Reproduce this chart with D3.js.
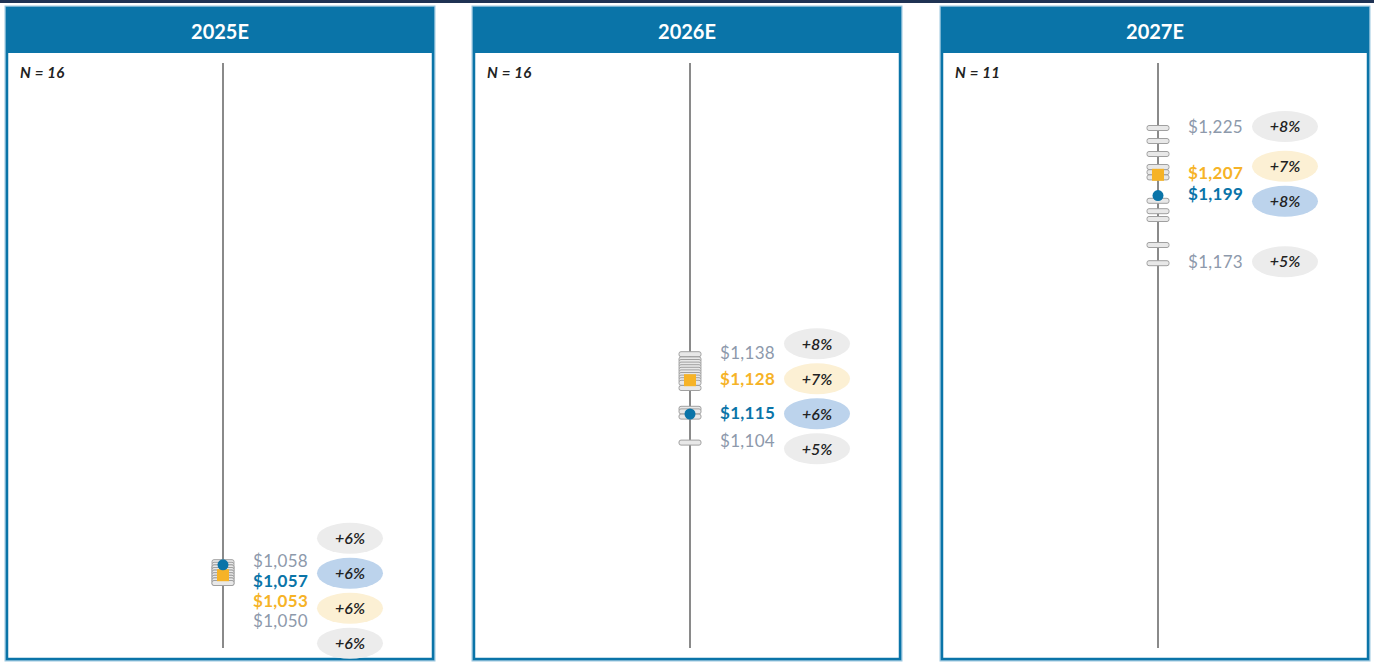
<!DOCTYPE html>
<html>
<head>
<meta charset="utf-8">
<script src="https://cdn.jsdelivr.net/npm/d3@7"></script>
<style>
  html, body { margin: 0; padding: 0; background: #fff; }
  svg { display: block; }
</style>
</head>
<body>
<svg id="chart" width="1374" height="662"></svg>
<script>
// ---- data ----
const years = ["2025E", "2026E", "2027E"];
const counts = [16, 16, 11];
const estimates2025 = [1058, 1057, 1056, 1056, 1055, 1055, 1054, 1054, 1053, 1053, 1052, 1052, 1051, 1051, 1050, 1050];
const estimates2026 = [1138, 1136, 1135, 1134, 1133, 1132, 1131, 1130, 1129, 1128, 1127, 1125, 1117, 1116, 1114, 1104];
const estimates2027 = [1225, 1220, 1215, 1210, 1208, 1206, 1197, 1193, 1190, 1180, 1173];
const highs = [1058, 1138, 1225];
const means = [1057, 1115, 1199];
const medians = [1053, 1128, 1207];
const lows = [1050, 1104, 1173];
const highGrowth = ["+6%", "+8%", "+8%"];
const meanGrowth = ["+6%", "+6%", "+8%"];
const medianGrowth = ["+6%", "+7%", "+7%"];
const lowGrowth = ["+6%", "+5%", "+5%"];
const yDomain = [1025, 1250];

const estimates = [estimates2025, estimates2026, estimates2027];

// ---- styles ----
const BLUE = "#0a74a8";
const YELLOW = "#f6b327";
const GRAY_TXT = "#8d99ab";
const FONT = "Lato, 'Open Sans', sans-serif";

const svg = d3.select("#chart");
svg.append("rect").attr("x", 0).attr("y", 0).attr("width", 1374).attr("height", 3).attr("fill", "#1f3354");

const panelLefts = [7, 474, 942];
const panelW = 426;
const panelTop = 8, headerH = 45, panelBottom = 659;

const y = d3.scaleLinear().domain(yDomain).range([648, 63]);
const fmt = v => "$" + d3.format(",")(v);

years.forEach((yr, i) => {
  const g = svg.append("g").attr("transform", `translate(${panelLefts[i]},0)`);
  g.append("rect").attr("x", -1).attr("y", panelTop - 1).attr("width", panelW + 2).attr("height", panelBottom - panelTop + 2)
    .attr("fill", "none").attr("stroke", "#9cc7df").attr("stroke-width", 3);
  g.append("rect").attr("x", 0).attr("y", panelTop).attr("width", panelW).attr("height", panelBottom - panelTop)
    .attr("fill", "#fff").attr("stroke", BLUE).attr("stroke-width", 2.5);
  g.append("rect").attr("x", 0).attr("y", panelTop).attr("width", panelW).attr("height", headerH).attr("fill", BLUE);
  g.append("text").attr("x", panelW / 2).attr("y", panelTop + headerH / 2 + 1).attr("dy", "0.36em")
    .attr("text-anchor", "middle").attr("fill", "#fff").attr("font-family", FONT)
    .attr("font-weight", "bold").attr("font-size", 20).text(yr);
  g.append("text").attr("x", 13).attr("y", 78).attr("fill", "#222").attr("font-family", FONT)
    .attr("font-style", "italic").attr("font-weight", "bold").attr("font-size", 15)
    .attr("letter-spacing", 0.3)
    .text(`N = ${counts[i]}`);

  const ax = panelW / 2 + 3;
  g.append("line").attr("x1", ax).attr("x2", ax).attr("y1", y(yDomain[1])).attr("y2", y(yDomain[0]))
    .attr("stroke", "#8a8a8a").attr("stroke-width", 2);

  g.selectAll("rect.est").data(estimates[i]).join("rect").attr("class", "est")
    .attr("x", ax - 11).attr("y", d => y(d) - 2.5).attr("width", 22).attr("height", 5)
    .attr("rx", 2).attr("fill", "#e8e8e8").attr("stroke", "#a0a0a0").attr("stroke-width", 1);

  g.append("rect").attr("x", ax - 6).attr("y", y(medians[i]) - 6).attr("width", 12).attr("height", 12)
    .attr("fill", YELLOW);
  g.append("circle").attr("cx", ax).attr("cy", y(means[i])).attr("r", 5.5).attr("fill", BLUE);

  const labels = [
    { v: highs[i], pct: highGrowth[i], color: GRAY_TXT, weight: "normal", pill: "#ececec" },
    { v: means[i], pct: meanGrowth[i], color: BLUE, weight: "bold", pill: "#bcd3ec" },
    { v: medians[i], pct: medianGrowth[i], color: YELLOW, weight: "bold", pill: "#fcf0d4" },
    { v: lows[i], pct: lowGrowth[i], color: GRAY_TXT, weight: "normal", pill: "#ececec" }
  ].sort((a, b) => b.v - a.v || (a.weight === "bold" ? -1 : 1));

  let prev = -Infinity;
  labels.forEach(l => { l.ly = Math.max(y(l.v) - 1.5, prev + 20); prev = l.ly; });

  const gap = 35;
  let clusters = labels.map(l => ({ items: [l], c: l.ly }));
  let merged = true;
  while (merged) {
    merged = false;
    for (let k = 0; k < clusters.length - 1; k++) {
      const a = clusters[k], b = clusters[k + 1];
      const aBot = a.c + (a.items.length - 1) * gap / 2;
      const bTop = b.c - (b.items.length - 1) * gap / 2;
      if (bTop - aBot < gap) {
        const items = a.items.concat(b.items);
        const c = d3.mean(items, d => d.ly);
        clusters.splice(k, 2, { items, c });
        merged = true;
        break;
      }
    }
  }
  clusters.forEach(cl => {
    cl.items.forEach((it, j) => { it.py = cl.c + (j - (cl.items.length - 1) / 2) * gap; });
  });

  g.selectAll("text.val").data(labels).join("text").attr("class", "val")
    .attr("x", ax + 30).attr("y", d => d.ly).attr("dy", "0.36em")
    .attr("fill", d => d.color).attr("font-weight", d => d.weight)
    .attr("font-family", FONT).attr("font-size", 17).attr("letter-spacing", 0.3).text(d => fmt(d.v));

  const pillX = ax + 127;
  g.selectAll("ellipse.pill").data(labels).join("ellipse").attr("class", "pill")
    .attr("cx", pillX).attr("cy", d => d.py).attr("rx", 33).attr("ry", 15.5).attr("fill", d => d.pill);
  g.selectAll("text.pct").data(labels).join("text").attr("class", "pct")
    .attr("x", pillX).attr("y", d => d.py).attr("dy", "0.36em").attr("text-anchor", "middle")
    .attr("fill", "#222").attr("font-style", "italic").attr("font-weight", 600).attr("font-family", FONT)
    .attr("font-size", 16).text(d => d.pct);
});
</script>
</body>
</html>
